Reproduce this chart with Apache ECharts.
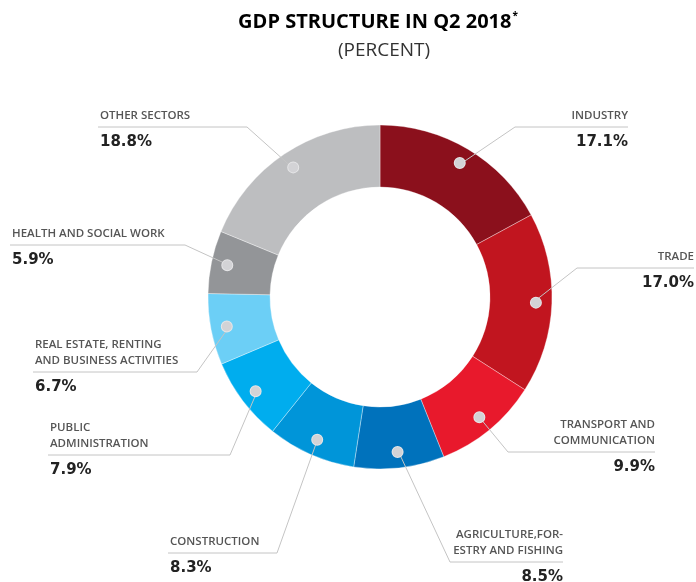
<!DOCTYPE html>
<html>
<head>
<meta charset="utf-8">
<script src="https://cdn.jsdelivr.net/npm/echarts@6/dist/echarts.min.js"></script>
<style>
  html, body { margin: 0; padding: 0; background: #fff; }
  #chart { width: 696px; height: 582px; }
</style>
</head>
<body>
<div id="chart"></div>
<script>
(function () {
  'use strict';

  const categories = [
    'INDUSTRY',
    'TRADE',
    'TRANSPORT AND\nCOMMUNICATION',
    'AGRICULTURE,FOR-\nESTRY AND FISHING',
    'CONSTRUCTION',
    'PUBLIC\nADMINISTRATION',
    'REAL ESTATE, RENTING\nAND BUSINESS ACTIVITIES',
    'HEALTH AND SOCIAL WORK',
    'OTHER SECTORS'
  ];
  const shares = [17.1, 17.0, 9.9, 8.5, 8.3, 7.9, 6.7, 5.9, 18.8];
  const colors = ['#8b101c', '#c1151f', '#e8192c', '#0072bc', '#0095d9', '#00adee', '#6ccff6', '#939598', '#bdbec0'];

  // where each leader line bends and where its underline ends: [elbowX, elbowY, endX]
  const anchors = [
    [515, 127, 628], [577, 268, 694], [508, 452, 655],
    [450, 562, 563], [277, 553, 168], [230, 455, 48],
    [197, 372, 33], [185, 245, 10], [247, 127, 98]
  ];

  const CX = 380, CY = 297, R0 = 110, R1 = 172, DOT_R = 153;

  const total = shares.reduce((a, b) => a + b, 0);
  const dotPoints = [];
  let cum = 0;
  shares.forEach(v => {
    const a = (cum + v / 2) / total * Math.PI * 2;
    dotPoints.push([CX + DOT_R * Math.sin(a), CY - DOT_R * Math.cos(a)]);
    cum += v;
  });

  const items = categories.map((name, i) => ({ name: name, value: shares[i] }));

  const chart = echarts.init(document.getElementById('chart'));

  chart.setOption({
    animation: false,
    graphic: [
      {
        type: 'text', x: 378, y: 22,
        style: {
          text: '{t|GDP STRUCTURE IN Q2 2018}{s|*}',
          align: 'center', verticalAlign: 'middle',
          rich: {
            t: { fontFamily: 'Open Sans', fontSize: 20, fontWeight: 'bold', color: '#222' },
            s: { fontFamily: 'Open Sans', fontSize: 10, fontWeight: 'bold', color: '#222', padding: [0, 0, 11, 1] }
          }
        }
      },
      {
        type: 'text', x: 384, y: 51,
        style: {
          text: '(PERCENT)', font: '19px "Open Sans"', fill: '#333',
          align: 'center', verticalAlign: 'middle'
        }
      }
    ],
    series: [
      {
        type: 'pie',
        z: 1,
        silent: true,
        center: [CX, CY],
        radius: [R0, R1],
        startAngle: 90,
        clockwise: true,
        avoidLabelOverlap: false,
        itemStyle: { borderColor: 'rgba(255,255,255,0.35)', borderWidth: 1 },
        label: { show: false },
        labelLine: { show: false },
        data: items.map((d, i) => ({ ...d, itemStyle: { color: colors[i] } }))
      },
      {
        type: 'pie',
        z: 2,
        silent: true,
        center: [CX, CY],
        radius: [R0, R1],
        startAngle: 90,
        clockwise: true,
        avoidLabelOverlap: false,
        itemStyle: { color: 'rgba(0,0,0,0)' },
        label: {
          show: true,
          position: 'outside',
          formatter: p => '{n|' + p.name + '}\n{v|' + p.value.toFixed(1) + '%}',
          rich: {
            n: { fontFamily: 'Open Sans', fontSize: 11.5, fontWeight: 600, color: '#555', lineHeight: 16 },
            v: { fontFamily: 'DejaVu Sans', fontSize: 15, fontWeight: 'bold', color: '#222', lineHeight: 36 }
          }
        },
        labelLine: { show: true, lineStyle: { color: '#c4c4c4', width: 1 } },
        labelLayout: function (params) {
          const i = params.dataIndex;
          const an = anchors[i];
          const right = an[2] > an[0];
          const nLines = categories[i].split('\n').length;
          return {
            x: right ? an[2] : an[2] + 2,
            y: an[1] - nLines * 16 - 3,
            align: right ? 'right' : 'left',
            verticalAlign: 'top',
            labelLinePoints: [dotPoints[i], [an[0], an[1]], [an[2], an[1]]]
          };
        },
        data: items
      },
      {
        type: 'pie',
        z: 3,
        silent: true,
        center: [CX, CY],
        radius: [DOT_R * 2 - R1, R1],
        startAngle: 90,
        clockwise: true,
        avoidLabelOverlap: false,
        itemStyle: { color: 'rgba(0,0,0,0)' },
        label: {
          show: true,
          position: 'inside',
          formatter: '{d| }',
          rich: {
            d: { width: 10, height: 10, borderRadius: 5, backgroundColor: '#d3d3d6', borderColor: '#e6e6e8', borderWidth: 1 }
          }
        },
        labelLine: { show: false },
        data: items
      }
    ]
  });

  window.addEventListener('resize', () => chart.resize());
})();
</script>
</body>
</html>
